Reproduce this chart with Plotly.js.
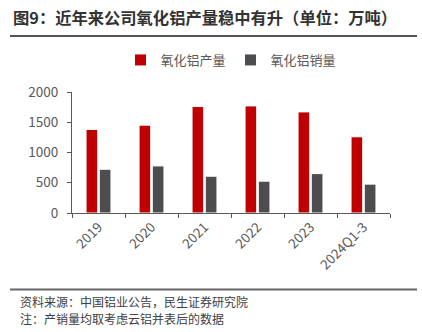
<!DOCTYPE html>
<html>
<head>
<meta charset="utf-8">
<script src="https://cdn.plot.ly/plotly-3.0.1.min.js"></script>
<style>html,body{margin:0;padding:0;background:#fff;}#chart{width:422px;height:332px;}</style>
</head>
<body>
<div id="chart"></div>
<script>
const categories = ["2019", "2020", "2021", "2022", "2023", "2024Q1-3"];
const productionName = "氧化铝产量";
const salesName = "氧化铝销量";
const production = [1381, 1452, 1760, 1770, 1671, 1260];
const sales = [723, 778, 608, 526, 651, 477];
const yTicks = [0, 500, 1000, 1500, 2000];

const FONT = "'Noto Sans CJK SC', 'Noto Sans', sans-serif";
const L = 72, R = 390, T = 92, B = 213;
const W = 422, H = 332;
const px = x => (x - L) / (R - L);
const py = y => (B - y) / (B - T);

const traces = [
  {type: "bar", name: productionName, x: categories, y: production,
   marker: {color: "#C00000", line: {color: "#ffffff", width: 1}}},
  {type: "bar", name: salesName, x: categories, y: sales,
   marker: {color: "#4D4D4F", line: {color: "#ffffff", width: 1}}}
];

const layout = {
  width: W, height: H,
  margin: {l: L, r: W - R, t: T, b: H - B, pad: 0},
  paper_bgcolor: "#ffffff", plot_bgcolor: "#ffffff",
  font: {family: FONT, color: "#595959", size: 13},
  barmode: "group", bargap: 0.5, bargroupgap: 0.12,
  showlegend: true,
  legend: {orientation: "h", x: 0.5, xanchor: "center", y: py(60), yanchor: "middle",
           font: {size: 13, color: "#595959"}, itemwidth: 30, traceorder: "normal"},
  xaxis: {type: "category", showline: true, linecolor: "#595959", linewidth: 1,
          ticks: "outside", ticklen: 4, tickcolor: "#595959", tickson: "boundaries",
          tickangle: -45, showgrid: false, zeroline: false, fixedrange: true,
          tickfont: {size: 13.5, color: "#595959"}},
  yaxis: {range: [0, 2000], tickvals: yTicks, showline: true, linecolor: "#595959", linewidth: 1,
          ticks: "outside", ticklen: 4, tickcolor: "#595959", showgrid: false,
          ticklabelstandoff: 6, tickfont: {size: 13.5, color: "#595959"},
          zeroline: false, fixedrange: true},
  shapes: [
    {type: "line", xref: "paper", yref: "paper", x0: px(10), x1: px(417), y0: py(36), y1: py(36),
     line: {color: "#555555", width: 2}},
    {type: "line", xref: "paper", yref: "paper", x0: px(10), x1: px(417), y0: py(289.5), y1: py(289.5),
     line: {color: "#666666", width: 2}}
  ],
  annotations: [
    {xref: "paper", yref: "paper", x: px(11), y: py(17), xanchor: "left", yanchor: "middle",
     text: "<b>图9：近年来公司氧化铝产量稳中有升（单位：万吨）</b>", showarrow: false,
     font: {size: 16.3, color: "#333333", family: FONT}},
    {xref: "paper", yref: "paper", x: px(18), y: py(301), xanchor: "left", yanchor: "middle",
     text: "资料来源：中国铝业公告，民生证券研究院", showarrow: false,
     font: {size: 12, color: "#404040", family: FONT}},
    {xref: "paper", yref: "paper", x: px(18), y: py(318), xanchor: "left", yanchor: "middle",
     text: "注：产销量均取考虑云铝并表后的数据", showarrow: false,
     font: {size: 12, color: "#404040", family: FONT}}
  ]
};

Plotly.newPlot("chart", traces, layout, {displayModeBar: false, staticPlot: true});
</script>
</body>
</html>
